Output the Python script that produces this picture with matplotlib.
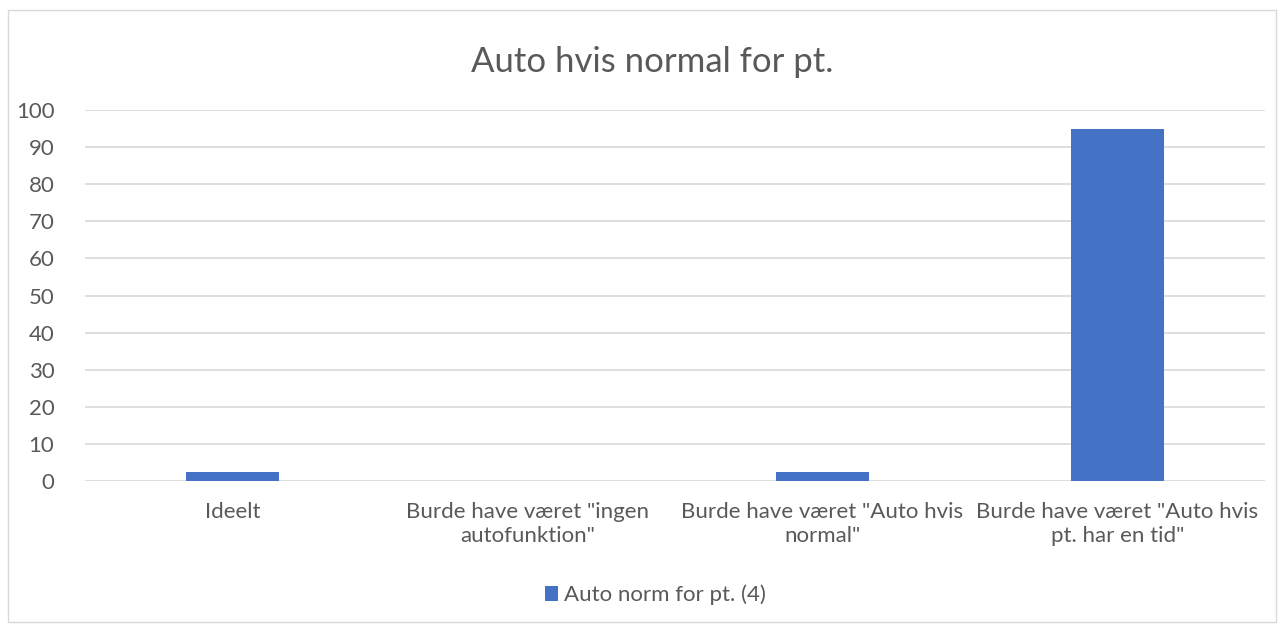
import matplotlib
matplotlib.use("Agg")
import matplotlib.pyplot as plt
from matplotlib.patches import Rectangle

categories = ["Ideelt", "Burde have været \"ingen\nautofunktion\"",
              "Burde have været \"Auto hvis\nnormal\"", "Burde have været \"Auto hvis\npt. har en tid\""]
values = [2.5, 0, 2.5, 95]
series_name = "Auto norm for pt. (4)"
yticks = [0, 10, 20, 30, 40, 50, 60, 70, 80, 90, 100]

plt.rcParams['font.family'] = ['Lato', 'DejaVu Sans']
txt = '#595959'
fig = plt.figure(figsize=(12.84, 6.28), dpi=100)
fig.patches.append(Rectangle((8/1284, 6/628), 1268/1284, 612/628, transform=fig.transFigure,
                             fill=False, edgecolor='#D9D9D9', linewidth=1))
ax = fig.add_axes([85/1284, 1-481/628, 1180/1284, 371/628])
x = range(len(categories))
ax.bar(x, values, width=0.315, color='#4472C4', label=series_name, zorder=3)
ax.set_xlim(-0.5, 3.5)
ax.set_ylim(0, 100)
ax.set_yticks(yticks)
ax.set_yticklabels([str(v) for v in yticks], fontsize=16, color=txt)
ax.set_xticks(list(x))
ax.set_xticklabels(categories, fontsize=16, color=txt, linespacing=1.25)
ax.tick_params(length=0, axis='y', pad=22)
ax.tick_params(length=0, axis='x', pad=15)
ax.grid(axis='y', color='#D9D9D9', linewidth=1.2, zorder=0)
for s in ax.spines.values():
    s.set_visible(False)
fig.text(652/1284, 1-62/628, "Auto hvis normal for pt.", ha='center', va='center', fontsize=25, color=txt)
fig.legend(loc='center', bbox_to_anchor=(655/1284, 1-595/628), frameon=False, fontsize=16,
           labelcolor=txt, handlelength=0.6, handleheight=0.6, handletextpad=0.25)
fig.savefig("out.png", dpi=100)
